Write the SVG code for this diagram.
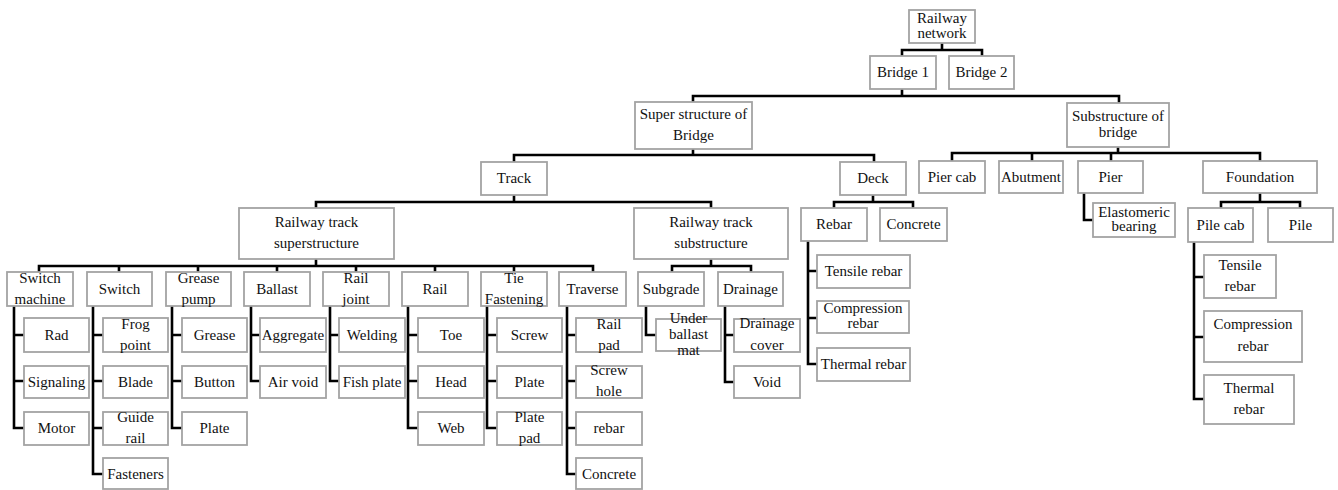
<svg xmlns="http://www.w3.org/2000/svg" width="1338" height="490" viewBox="0 0 1338 490" font-family="'Liberation Serif', 'Times New Roman', Times, serif">
<style>
.b{fill:#fff;stroke:#a3a3a3;stroke-width:1.8}
.t{font-family:'Liberation Serif','Times New Roman',Times,serif;font-size:15px;text-anchor:middle;fill:#111}
.c{fill:none;stroke:#000;stroke-width:2.6}
</style>
<rect width="1338" height="490" fill="#fff"/>
<g id="connectors" class="c">
<path d="M942,43V50 M902,56V50H982V56"/>
<path d="M902,89V96 M693,102V96H1119V103"/>
<path d="M693,149V155 M514,162V155H874V162"/>
<path d="M1118,147V153 M952,161V153H1260V161 M1032,153V161 M1111,153V161"/>
<path d="M1084,193V220H1093"/>
<path d="M1260,193V202 M1221,208V202H1300V208"/>
<path d="M1194,242V399H1204 M1194,277H1204 M1194,337H1204"/>
<path d="M514,195V202 M316,208V202H711V208"/>
<path d="M873,195V202 M834,208V202H913V208"/>
<path d="M808,241V364H817 M808,271H817 M808,318H817"/>
<path d="M316,259V266 M39,272V266H593V272 M119,266V272 M198,266V272 M277,266V272 M356,266V272 M435,266V272 M514,266V272"/>
<path d="M711,259V266 M672,272V266H751V272"/>
<path d="M646,306V335H656"/>
<path d="M725,306V382H734 M725,335H734"/>
<path d="M14,306V428H24 M14,335H24 M14,381H24"/>
<path d="M93,306V474H103 M93,335H103 M93,381H103 M93,428H103"/>
<path d="M172,306V428H182 M172,335H182 M172,381H182"/>
<path d="M251,306V381H260 M251,335H260"/>
<path d="M330,306V381H339 M330,335H339"/>
<path d="M408,306V428H418 M408,335H418 M408,381H418"/>
<path d="M487,306V428H497 M487,335H497 M487,381H497"/>
<path d="M567,306V474H576 M567,335H576 M567,381H576 M567,428H576"/>
</g>
<g id="n-network"><rect class="b" x="909" y="10" width="66" height="33"/><text class="t" x="942" y="23">Railway</text><text class="t" x="942" y="38">network</text></g>
<g id="n-bridge1"><rect class="b" x="870" y="56" width="66" height="33"/><text class="t" x="903" y="77">Bridge 1</text></g>
<g id="n-bridge2"><rect class="b" x="949" y="56" width="65" height="33"/><text class="t" x="981.5" y="77">Bridge 2</text></g>
<g id="n-super"><rect class="b" x="635" y="102" width="117" height="47"/><text class="t" x="693.5" y="119">Super structure of</text><text class="t" x="693.5" y="140">Bridge</text></g>
<g id="n-sub"><rect class="b" x="1067" y="103" width="102" height="44"/><text class="t" x="1118" y="121">Substructure of</text><text class="t" x="1118" y="137">bridge</text></g>
<g id="n-track"><rect class="b" x="481" y="162" width="66" height="33"/><text class="t" x="514" y="183">Track</text></g>
<g id="n-deck"><rect class="b" x="840" y="162" width="66" height="33"/><text class="t" x="873" y="183">Deck</text></g>
<g id="n-piercab"><rect class="b" x="919" y="161" width="66" height="32"/><text class="t" x="952" y="182">Pier cab</text></g>
<g id="n-abutment"><rect class="b" x="999" y="161" width="64" height="32"/><text class="t" x="1031" y="182">Abutment</text></g>
<g id="n-pier"><rect class="b" x="1078" y="161" width="65" height="32"/><text class="t" x="1110.5" y="182">Pier</text></g>
<g id="n-foundation"><rect class="b" x="1203" y="161" width="114" height="32"/><text class="t" x="1260" y="182">Foundation</text></g>
<g id="n-elastomeric"><rect class="b" x="1093" y="203" width="82" height="34"/><text class="t" x="1134" y="217">Elastomeric</text><text class="t" x="1134" y="231">bearing</text></g>
<g id="n-pilecab"><rect class="b" x="1188" y="208" width="65" height="34"/><text class="t" x="1220.5" y="230">Pile cab</text></g>
<g id="n-pile"><rect class="b" x="1268" y="208" width="65" height="34"/><text class="t" x="1300.5" y="230">Pile</text></g>
<g id="n-f-tensile"><rect class="b" x="1204" y="255" width="72" height="43"/><text class="t" x="1240" y="270">Tensile</text><text class="t" x="1240" y="291">rebar</text></g>
<g id="n-f-compression"><rect class="b" x="1204" y="311" width="98" height="51"/><text class="t" x="1253" y="329">Compression</text><text class="t" x="1253" y="351">rebar</text></g>
<g id="n-f-thermal"><rect class="b" x="1204" y="375" width="90" height="49"/><text class="t" x="1249" y="393">Thermal</text><text class="t" x="1249" y="414">rebar</text></g>
<g id="n-rtsup"><rect class="b" x="239" y="208" width="155" height="51"/><text class="t" x="316.5" y="227">Railway track</text><text class="t" x="316.5" y="248">superstructure</text></g>
<g id="n-rtsub"><rect class="b" x="634" y="208" width="154" height="51"/><text class="t" x="711" y="227">Railway track</text><text class="t" x="711" y="248">substructure</text></g>
<g id="n-rebar"><rect class="b" x="801" y="208" width="66" height="33"/><text class="t" x="834" y="229">Rebar</text></g>
<g id="n-concrete-deck"><rect class="b" x="880" y="208" width="67" height="33"/><text class="t" x="913.5" y="229">Concrete</text></g>
<g id="n-d-tensile"><rect class="b" x="817" y="255" width="93" height="33"/><text class="t" x="863.5" y="276">Tensile rebar</text></g>
<g id="n-d-compression"><rect class="b" x="817" y="301" width="92" height="32"/><text class="t" x="863" y="313">Compression</text><text class="t" x="863" y="328">rebar</text></g>
<g id="n-d-thermal"><rect class="b" x="817" y="348" width="93" height="33"/><text class="t" x="863.5" y="369">Thermal rebar</text></g>
<g id="n-switchmachine"><rect class="b" x="7" y="272" width="66" height="34"/><text class="t" x="40" y="283">Switch</text><text class="t" x="40" y="304">machine</text></g>
<g id="n-switch"><rect class="b" x="87" y="272" width="65" height="34"/><text class="t" x="119.5" y="294">Switch</text></g>
<g id="n-greasepump"><rect class="b" x="166" y="272" width="65" height="34"/><text class="t" x="198.5" y="283">Grease</text><text class="t" x="198.5" y="304">pump</text></g>
<g id="n-ballast"><rect class="b" x="244" y="272" width="66" height="34"/><text class="t" x="277" y="294">Ballast</text></g>
<g id="n-railjoint"><rect class="b" x="323" y="272" width="66" height="34"/><text class="t" x="356" y="283">Rail</text><text class="t" x="356" y="304">joint</text></g>
<g id="n-rail"><rect class="b" x="402" y="272" width="66" height="34"/><text class="t" x="435" y="294">Rail</text></g>
<g id="n-tiefastening"><rect class="b" x="481" y="272" width="66" height="34"/><text class="t" x="514" y="283">Tie</text><text class="t" x="514" y="304">Fastening</text></g>
<g id="n-traverse"><rect class="b" x="559" y="272" width="67" height="34"/><text class="t" x="592.5" y="294">Traverse</text></g>
<g id="n-subgrade"><rect class="b" x="638" y="272" width="66" height="34"/><text class="t" x="671" y="294">Subgrade</text></g>
<g id="n-drainage"><rect class="b" x="718" y="272" width="65" height="34"/><text class="t" x="750.5" y="294">Drainage</text></g>
<g id="n-rad"><rect class="b" x="24" y="318" width="65" height="34"/><text class="t" x="56.5" y="340">Rad</text></g>
<g id="n-signaling"><rect class="b" x="24" y="366" width="65" height="32"/><text class="t" x="56.5" y="387">Signaling</text></g>
<g id="n-motor"><rect class="b" x="24" y="412" width="65" height="33"/><text class="t" x="56.5" y="433">Motor</text></g>
<g id="n-frogpoint"><rect class="b" x="103" y="318" width="65" height="34"/><text class="t" x="135.5" y="329">Frog</text><text class="t" x="135.5" y="350">point</text></g>
<g id="n-blade"><rect class="b" x="103" y="366" width="65" height="32"/><text class="t" x="135.5" y="387">Blade</text></g>
<g id="n-guiderail"><rect class="b" x="103" y="412" width="65" height="33"/><text class="t" x="135.5" y="422">Guide</text><text class="t" x="135.5" y="443">rail</text></g>
<g id="n-fasteners"><rect class="b" x="103" y="458" width="65" height="31"/><text class="t" x="135.5" y="479">Fasteners</text></g>
<g id="n-grease"><rect class="b" x="182" y="318" width="65" height="34"/><text class="t" x="214.5" y="340">Grease</text></g>
<g id="n-button"><rect class="b" x="182" y="366" width="65" height="32"/><text class="t" x="214.5" y="387">Button</text></g>
<g id="n-gp-plate"><rect class="b" x="182" y="412" width="65" height="33"/><text class="t" x="214.5" y="433">Plate</text></g>
<g id="n-aggregate"><rect class="b" x="260" y="318" width="66" height="34"/><text class="t" x="293" y="340">Aggregate</text></g>
<g id="n-airvoid"><rect class="b" x="260" y="366" width="66" height="32"/><text class="t" x="293" y="387">Air void</text></g>
<g id="n-welding"><rect class="b" x="339" y="318" width="66" height="34"/><text class="t" x="372" y="340">Welding</text></g>
<g id="n-fishplate"><rect class="b" x="339" y="366" width="66" height="32"/><text class="t" x="372" y="387">Fish plate</text></g>
<g id="n-toe"><rect class="b" x="418" y="318" width="66" height="34"/><text class="t" x="451" y="340">Toe</text></g>
<g id="n-head"><rect class="b" x="418" y="366" width="66" height="32"/><text class="t" x="451" y="387">Head</text></g>
<g id="n-web"><rect class="b" x="418" y="412" width="66" height="33"/><text class="t" x="451" y="433">Web</text></g>
<g id="n-screw"><rect class="b" x="497" y="318" width="65" height="34"/><text class="t" x="529.5" y="340">Screw</text></g>
<g id="n-tf-plate"><rect class="b" x="497" y="366" width="65" height="32"/><text class="t" x="529.5" y="387">Plate</text></g>
<g id="n-platepad"><rect class="b" x="497" y="412" width="65" height="33"/><text class="t" x="529.5" y="422">Plate</text><text class="t" x="529.5" y="443">pad</text></g>
<g id="n-railpad"><rect class="b" x="576" y="318" width="66" height="34"/><text class="t" x="609" y="329">Rail</text><text class="t" x="609" y="350">pad</text></g>
<g id="n-screwhole"><rect class="b" x="576" y="366" width="66" height="32"/><text class="t" x="609" y="375">Screw</text><text class="t" x="609" y="396">hole</text></g>
<g id="n-tr-rebar"><rect class="b" x="576" y="412" width="66" height="33"/><text class="t" x="609" y="433">rebar</text></g>
<g id="n-tr-concrete"><rect class="b" x="576" y="458" width="66" height="31"/><text class="t" x="609" y="479">Concrete</text></g>
<g id="n-ubm"><rect class="b" x="656" y="319" width="65" height="32"/><text class="t" x="688.5" y="323">Under</text><text class="t" x="688.5" y="339">ballast</text><text class="t" x="688.5" y="355">mat</text></g>
<g id="n-drainagecover"><rect class="b" x="734" y="319" width="66" height="33"/><text class="t" x="767" y="328">Drainage</text><text class="t" x="767" y="350">cover</text></g>
<g id="n-void"><rect class="b" x="734" y="366" width="66" height="32"/><text class="t" x="767" y="387">Void</text></g>
</svg>
